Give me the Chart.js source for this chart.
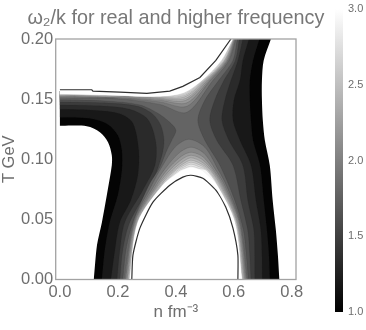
<!DOCTYPE html>
<html><head><meta charset="utf-8">
<style>html,body{margin:0;padding:0;background:#fff;width:366px;height:330px;overflow:hidden}
canvas{position:absolute;top:0}</style>
<script src="https://cdn.jsdelivr.net/npm/chart.js@4/dist/chart.umd.min.js"></script>
</head><body>
<canvas id="main" width="366" height="330" style="left:0"></canvas>
<canvas id="bar" width="40" height="330" style="left:326px"></canvas>
<script>
const titleText = "ω₂/k for real and higher frequency";
const xLabel = "n fm⁻³";
const yLabel = "T GeV";
const xTickValues = [0, 0.2, 0.4, 0.6, 0.8];
const yTickValues = [0, 0.05, 0.1, 0.15, 0.2];
const barTickValues = [1, 1.5, 2, 2.5, 3];
const barRange = [1, 3];
const bandGrays = [4,24,42,60,80,100,118,135,152,168,184,200,216,232,245,255];

// contours below the saddle: lower-left branch, [n, T]
const leftContours = [
 [[0,.1278],[.093,.1274],[.138,.1224],[.166,.1141],[.179,.1033],[.179,.0950],[.166,.0759],[.145,.0477],[.128,.0286],[.117,0]],
 [[0,.1349],[.103,.1340],[.166,.1290],[.2,.1199],[.214,.1075],[.214,.0909],[.2,.0701],[.172,.0477],[.155,.0245],[.145,0]],
 [[0,.1415],[.121,.1407],[.207,.1378],[.252,.1299],[.272,.1075],[.269,.0867],[.245,.0660],[.207,.0477],[.19,.0245],[.176,0]],
 [[0,.1452],[.138,.1444],[.241,.1415],[.303,.1332],[.331,.1141],[.328,.0950],[.286,.0743],[.224,.0477],[.207,.0245],[.197,0]],
 [[0,.1477],[.155,.1469],[.269,.1440],[.321,.1373],[.348,.1282],[.359,.1158],[.352,.1033],[.321,.0826],[.241,.0477],[.217,.0245],[.207,0]],
 [[0,.1494],[.155,.1485],[.276,.1452],[.338,.1382],[.379,.1307],[.4,.1241],[.386,.1158],[.369,.1075],[.345,.0934],[.307,.0784],[.252,.0477],[.228,.0245],[.217,0]]
];
// right-hand branch: n at shared T rows
const rightT = [.2,.1822,.1656,.1490,.1324,.1158,.0950,.0660,.0411,.0203,0];
const rightN = [
 [.728,.703,.697,.697,.700,.707,.724,.734,.745,.752,.757],
 [.688,.666,.655,.655,.659,.666,.690,.703,.714,.721,.724],
 [.652,.631,.621,.600,.597,.621,.659,.676,.693,.697,.698],
 [.631,.614,.590,.569,.559,.583,.631,.648,.669,.672,.672],
 [.619,.605,.566,.534,.517,.541,.597,.624,.648,.655,.659],
 [.612,.597,.548,.500,.476,.500,.552,.603,.633,.643,.650]
];
// contours above the saddle: upper cap
const capContours = [
 [[0,.1506],[.207,.1502],[.345,.1456],[.438,.1390],[.528,.1656],[.583,.1822],[.607,.2]],
 [[0,.1513],[.207,.1508],[.345,.1477],[.438,.1440],[.519,.1656],[.579,.1822],[.605,.2]],
 [[0,.1519],[.207,.1513],[.345,.1490],[.438,.1469],[.514,.1656],[.576,.1822],[.603,.2]],
 [[0,.1523],[.207,.1516],[.345,.1498],[.434,.1490],[.509,.1656],[.573,.1822],[.602,.2]],
 [[0,.1527],[.207,.1519],[.345,.1505],[.434,.1506],[.504,.1656],[.570,.1822],[.601,.2]],
 [[0,.1531],[.207,.1523],[.345,.1510],[.431,.1519],[.501,.1656],[.568,.1822],[.600,.2]],
 [[0,.1534],[.207,.1525],[.345,.1514],[.431,.1531],[.498,.1656],[.566,.1822],[.599,.2]],
 [[0,.1537],[.207,.1528],[.345,.1517],[.428,.1539],[.495,.1656],[.562,.1822],[.598,.2]],
 [[0,.1539],[.207,.1529],[.345,.1520],[.428,.1548],[.492,.1656],[.559,.1822],[.597,.2]],
 [[0,.1544],[.207,.1531],[.345,.1523],[.424,.1552],[.490,.1656],[.555,.1822],[.597,.2]]
];
// contours above the saddle: lower dome
const domeContours = [
 [[.222,0],[.254,.0477],[.317,.0784],[.345,.0909],[.397,.1100],[.445,.1166],[.5,.1100],[.547,.0909],[.574,.0784],[.622,.0477],[.646,0]],
 [[.226,0],[.257,.0477],[.326,.0784],[.359,.0909],[.410,.1050],[.452,.1100],[.497,.1050],[.538,.0909],[.568,.0784],[.619,.0477],[.643,0]],
 [[.228,0],[.259,.0477],[.333,.0784],[.369,.0909],[.417,.1021],[.452,.1058],[.493,.1021],[.531,.0909],[.563,.0784],[.617,.0477],[.640,0]],
 [[.231,0],[.261,.0477],[.338,.0784],[.379,.0909],[.421,.1000],[.452,.1033],[.490,.1000],[.526,.0909],[.559,.0784],[.614,.0477],[.638,0]],
 [[.233,0],[.263,.0477],[.342,.0784],[.388,.0909],[.424,.0979],[.452,.1012],[.488,.0979],[.521,.0909],[.555,.0784],[.612,.0477],[.636,0]],
 [[.234,0],[.265,.0477],[.347,.0784],[.395,.0909],[.426,.0963],[.452,.0992],[.486,.0963],[.517,.0909],[.552,.0784],[.610,.0477],[.634,0]],
 [[.236,0],[.266,.0477],[.349,.0784],[.400,.0909],[.428,.0950],[.452,.0975],[.484,.0950],[.512,.0909],[.549,.0784],[.609,.0477],[.632,0]],
 [[.238,0],[.267,.0477],[.352,.0784],[.407,.0909],[.428,.0935],[.452,.0959],[.483,.0935],[.509,.0909],[.546,.0784],[.607,.0477],[.630,0]],
 [[.239,0],[.268,.0477],[.353,.0784],[.414,.0909],[.429,.0923],[.452,.0942],[.481,.0923],[.505,.0909],[.544,.0784],[.605,.0477],[.629,0]],
 [[.241,0],[.269,.0477],[.355,.0784],[.407,.0884],[.431,.0917],[.452,.0929],[.478,.0917],[.497,.0892],[.541,.0784],[.603,.0477],[.628,0]]
];
// black boundary lines
const capLine = [[0,.1578],[.110,.1578],[.114,.1567],[.207,.1558],[.3,.1548],[.379,.1567],[.424,.1606],[.483,.1680],[.538,.1822],[.590,.2]];
const domeLine = [[.248,0],[.252,.0203],[.276,.0427],[.321,.0643],[.379,.0784],[.424,.0851],[.452,.0867],[.493,.0842],[.538,.0743],[.572,.0602],[.597,.0427],[.614,.0203],[.614,0]];
// where the painted bands stop under the white cap
const capHiddenEdge = [[.3,.2],[0,.157]];
const capCorner = [0,.2];

const TEXT = "#6e6e6e";
const FONT = "'Liberation Sans', Arial, sans-serif";
const gray = g => `rgb(${g},${g},${g})`;
const pts = a => a.map(p => ({x:p[0], y:p[1]}));
const twice = p => [p, p];
const fillLayer = (a, g) => ({data:pts(a), fill:'shape', backgroundColor:gray(g), borderColor:'transparent', borderWidth:0, pointRadius:0, tension:.3, showLine:true});
const lineLayer = (a, c, w) => ({data:pts(a), fill:false, borderColor:c, borderWidth:w, pointRadius:0, tension:.3, showLine:true});
const CONTOUR = 'rgba(40,40,40,.28)';

const layers = [];
leftContours.forEach((left, k) => {
  const right = rightN[k].map((n, i) => [n, rightT[i]]);
  const poly = [...twice(left[0]), ...left.slice(1, -1), ...twice(left[left.length-1]),
    ...twice(right[right.length-1]), ...right.slice(1, -1).reverse(), ...twice(right[0]),
    ...twice(capHiddenEdge[0]), ...twice(capHiddenEdge[1]), left[0]];
  layers.push(fillLayer(poly, bandGrays[k]));
  if (k > 0) { layers.push(lineLayer(left, CONTOUR, .5)); layers.push(lineLayer(right, CONTOUR, .5)); }
});
capContours.forEach((cap, i) => {
  const last = i === capContours.length - 1;
  const close = last ? twice(capCorner) : [...twice(capHiddenEdge[0]), ...twice(capHiddenEdge[1])];
  const poly = [...twice(cap[0]), ...cap.slice(1, -1), ...twice(cap[cap.length-1]), ...close, cap[0]];
  layers.push(fillLayer(poly, bandGrays[i + 6]));
  if (!last) layers.push(lineLayer(cap, CONTOUR, .5));
});
domeContours.forEach((dome, i) => {
  const poly = [...twice(dome[0]), ...dome.slice(1, -1), ...twice(dome[dome.length-1]), dome[0]];
  layers.push(fillLayer(poly, bandGrays[i + 6]));
  if (i < 9) layers.push(lineLayer(dome, CONTOUR, .5));
});
const boundary = '#2e2e2e';
layers.push({...lineLayer(capLine, boundary, 1.2), tension:0});
layers.push({...lineLayer(domeLine, boundary, 1.2), tension:.2});

const frame = {id:'frame',
  afterLayout(c){ const t = c.titleBlock; t.left = c.chartArea.left - 40; t.right = c.chartArea.right + 40; },
  afterDatasetsDraw(c){
    const a = c.chartArea, x = c.ctx;
    x.save(); x.strokeStyle = '#a2a2a2'; x.lineWidth = 1.3;
    x.strokeRect(a.left, a.top, a.right - a.left, a.bottom - a.top);
    x.restore();
  }};

new Chart(document.getElementById('main'), {
  type:'line',
  data:{datasets:layers.slice().reverse()},
  plugins:[frame],
  options:{
    responsive:false, animation:false, parsing:{xAxisKey:'x',yAxisKey:'y'},
    layout:{padding:{right:70,left:0,top:0,bottom:0}},
    plugins:{legend:{display:false}, tooltip:{enabled:false},
      title:{display:true, text:titleText, color:'#777', fullSize:false, font:{family:FONT,size:19.8,weight:'normal',lineHeight:1.2}, padding:{top:7,bottom:8.24}}},
    scales:{
      x:{type:'linear', min:-.0145, max:.8145,
        afterBuildTicks:s=>{s.ticks=xTickValues.map(v=>({value:v}))},
        afterFit:s=>{s.height=50.5},
        grid:{display:false,drawTicks:false}, border:{display:false},
        ticks:{autoSkip:false,maxRotation:0,padding:3,color:TEXT,font:{family:FONT,size:16.5},callback:v=>v.toFixed(1)}, 
        title:{display:true,text:xLabel,color:TEXT,font:{family:FONT,size:17},padding:{top:1,bottom:7}}},
      y:{type:'linear', min:0, max:.2,
        afterBuildTicks:s=>{s.ticks=yTickValues.map(v=>({value:v}))},
        afterFit:s=>{s.width=55.7},
        grid:{display:false,drawTicks:false}, border:{display:false},
        ticks:{autoSkip:false,padding:2.5,color:TEXT,font:{family:FONT,size:16.5},callback:v=>v.toFixed(2)},
        title:{display:true,text:yLabel,color:TEXT,font:{family:FONT,size:16.5},padding:{top:0,bottom:0}}}
    }
  }
});

new Chart(document.getElementById('bar'), {
  type:'bar',
  data:{labels:['ω₂/k'], datasets:[{data:[barRange], barPercentage:1, categoryPercentage:1, borderWidth:0,
    backgroundColor(ctx){
      const a = ctx.chart.chartArea; if(!a) return '#888';
      const g = ctx.chart.ctx.createLinearGradient(0,a.bottom,0,a.top);
      g.addColorStop(0,'#000'); g.addColorStop(1,'#fff'); return g;
    }}]},
  options:{
    responsive:false, animation:false,
    layout:{padding:{left:9,right:0,top:9,bottom:18}},
    plugins:{legend:{display:false}, tooltip:{enabled:false}},
    scales:{
      x:{display:false},
      y:{position:'right', min:1, max:3,
        afterBuildTicks:s=>{s.ticks=barTickValues.map(v=>({value:v}))},
        afterFit:s=>{s.width=23; s.paddingTop=0; s.paddingBottom=0},
        grid:{display:false,drawTicks:false}, border:{display:false},
        ticks:{autoSkip:false,padding:5,color:TEXT,font:{family:FONT,size:11},callback:v=>v.toFixed(1)}}
    }
  }
});
</script>
</body></html>
